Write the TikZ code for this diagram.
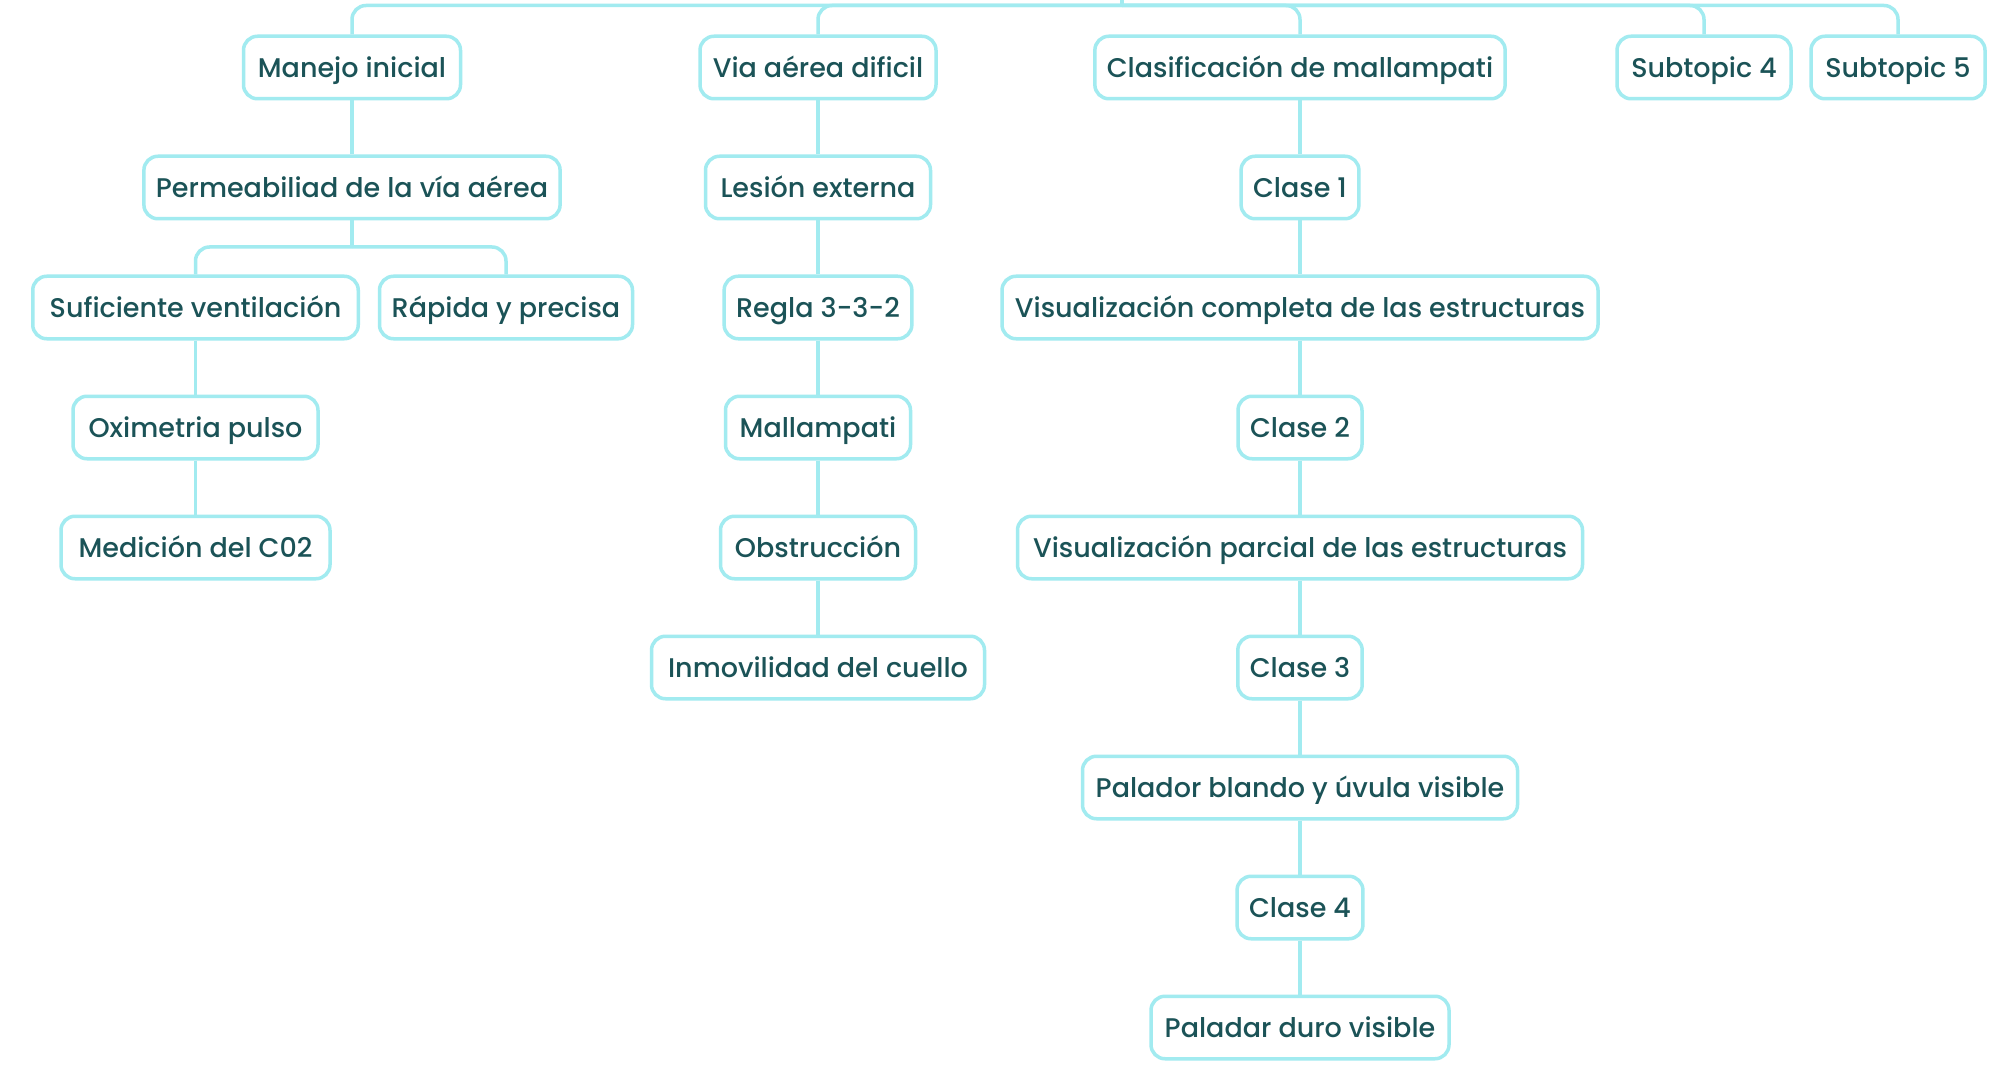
\documentclass[tikz,border=0pt]{standalone}
\usepackage{fontspec}
\setmainfont{Poppins}
\newfontfamily\mmfont{Poppins}[UprightFont=* Medium]
\definecolor{bordercol}{HTML}{A2EBF0}
\definecolor{textcol}{HTML}{1B5357}
\tikzset{
  topic/.style={draw=bordercol, line width=3.5pt, rounded corners=14pt, fill=white,
    text=textcol, minimum height=62.5pt, inner xsep=12pt, inner ysep=0pt,
    text height=25pt, text depth=5.6pt,
    font=\mmfont\fontsize{27}{31}\selectfont},
  conn/.style={draw=bordercol, line width=3.5pt},
  fork/.style={draw=bordercol, line width=3.5pt, rounded corners=14pt}
}
\begin{document}
\begin{tikzpicture}[x=1pt,y=-1pt]
\useasboundingbox[fill=white] (0,0) rectangle (2016,1075);
% row 1
\node[topic, minimum width=217pt] (manejo) at (352,67.5) {Manejo inicial};
\node[topic, minimum width=236pt] (via) at (818,67.5) {Via aérea dificil};
\node[topic, minimum width=409pt] (clasif) at (1300,67.5) {Clasificación de mallampati};
\node[topic, minimum width=174pt] (sub4) at (1704,67.5) {Subtopic 4};
\node[topic, minimum width=174pt] (sub5) at (1898,67.5) {Subtopic 5};
% row 2
\node[topic, minimum width=416pt] (perm) at (352,187.5) {Permeabiliad de la vía aérea};
\node[topic, minimum width=225pt] (lesion) at (818,187.5) {Lesión externa};
\node[topic, minimum width=116pt] (clase1) at (1300,187.5) {Clase 1};
% row 3
\node[topic, minimum width=325.5pt] (sufi) at (195.5,307.5) {Suficiente ventilación};
\node[topic, minimum width=253pt] (rapida) at (506,307.5) {Rápida y precisa};
\node[topic, minimum width=181pt] (regla) at (818,307.5) {Regla 3-3-2};
\node[topic, minimum width=596pt] (viscomp) at (1300,307.5) {Visualización completa de las estructuras};
% row 4
\node[topic, minimum width=245pt] (oxi) at (195.5,427.5) {Oximetria pulso};
\node[topic, minimum width=185pt] (malla) at (818,427.5) {Mallampati};
\node[topic, minimum width=123pt] (clase2) at (1300,427.5) {Clase 2};
% row 5
\node[topic, minimum width=269pt] (medicion) at (195.5,547.5) {Medición del C02};
\node[topic, minimum width=195pt] (obst) at (818,547.5) {Obstrucción};
\node[topic, minimum width=565pt] (visparc) at (1300,547.5) {Visualización parcial de las estructuras\ };
% row 6
\node[topic, minimum width=333pt] (inmov) at (818,667.5) {Inmovilidad del cuello};
\node[topic, minimum width=123pt] (clase3) at (1300,667.5) {Clase 3};
% row 7
\node[topic, minimum width=435pt] (palador) at (1300,787.5) {Palador blando y úvula visible};
% row 8
\node[topic, minimum width=123pt] (clase4) at (1300,907.5) {Clase 4};
% row 9
\node[topic, minimum width=298pt] (paladar) at (1300,1027.5) {Paladar duro visible};
% top connectors
\coordinate (root) at (1122,0);
\coordinate (rootbar) at (1122,5.5);
\draw[conn] (root) -- (rootbar);
\draw[fork] (rootbar) -| (manejo.north);
\draw[fork] (rootbar) -| (via.north);
\draw[fork] (rootbar) -| (clasif.north);
\draw[fork] (rootbar) -| (sub4.north);
\draw[fork] (rootbar) -| (sub5.north);
% Manejo subtree
\draw[conn] (manejo.south) -- (perm.north);
\coordinate (permfork) at (352,247);
\draw[conn] (perm.south) -- (permfork);
\draw[fork] (permfork) -| (sufi.north);
\draw[fork] (permfork) -| (rapida.north);
\draw[conn] (sufi.south) -- (oxi.north);
\draw[conn] (oxi.south) -- (medicion.north);
% Via subtree
\draw[conn] (via.south) -- (lesion.north);
\draw[conn] (lesion.south) -- (regla.north);
\draw[conn] (regla.south) -- (malla.north);
\draw[conn] (malla.south) -- (obst.north);
\draw[conn] (obst.south) -- (inmov.north);
% Clasif subtree
\draw[conn] (clasif.south) -- (clase1.north);
\draw[conn] (clase1.south) -- (viscomp.north);
\draw[conn] (viscomp.south) -- (clase2.north);
\draw[conn] (clase2.south) -- (visparc.north);
\draw[conn] (visparc.south) -- (clase3.north);
\draw[conn] (clase3.south) -- (palador.north);
\draw[conn] (palador.south) -- (clase4.north);
\draw[conn] (clase4.south) -- (paladar.north);
\end{tikzpicture}
\end{document}
